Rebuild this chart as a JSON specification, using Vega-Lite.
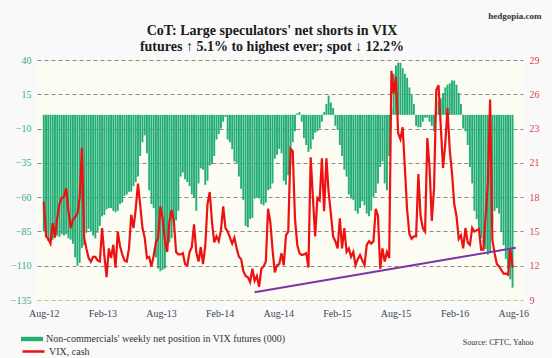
{
"$schema": "https://vega.github.io/schema/vega-lite/v6.json",
"width": 486, "height": 240,
"autosize": {"type": "none"},
"padding": {"left": 37, "top": 60, "right": 29, "bottom": 58},
"background": "#f8f9f8",
"title": {"text": ["CoT: Large speculators' net shorts in VIX", "futures ↑ 5.1% to highest ever; spot ↓ 12.2%"], "font": "Liberation Serif", "fontSize": 14, "fontWeight": "bold", "color": "#1a1a1a", "anchor": "middle", "frame": "group", "dx": -8, "offset": 0, "dy": 43, "lineHeight": 16},
"datasets": {
"main": [
{"date":"2012-08-31","net":-85,"vix":17.2},{"date":"2012-09-07","net":-86,"vix":14.3},{"date":"2012-09-14","net":-92,"vix":14.1},{"date":"2012-09-21","net":-93,"vix":13.7},{"date":"2012-09-28","net":-91,"vix":15.4},{"date":"2012-10-05","net":-89,"vix":14.2},{"date":"2012-10-12","net":-88,"vix":15.8},{"date":"2012-10-19","net":-89,"vix":17.0},{"date":"2012-10-26","net":-87,"vix":17.5},{"date":"2012-11-02","net":-88,"vix":17.6},{"date":"2012-11-09","net":-87,"vix":18.3},{"date":"2012-11-16","net":-90,"vix":16.4},{"date":"2012-11-23","net":-91,"vix":15.0},{"date":"2012-11-30","net":-94,"vix":15.7},{"date":"2012-12-07","net":-104,"vix":15.9},{"date":"2012-12-14","net":-110,"vix":16.2},{"date":"2012-12-21","net":-108,"vix":17.5},{"date":"2012-12-28","net":-97,"vix":21.7},
{"date":"2013-01-04","net":-95,"vix":14.2},{"date":"2013-01-11","net":-86,"vix":13.3},{"date":"2013-01-18","net":-83,"vix":12.5},{"date":"2013-01-25","net":-85,"vix":12.2},{"date":"2013-02-01","net":-88,"vix":12.6},{"date":"2013-02-08","net":-90,"vix":12.6},{"date":"2013-02-15","net":-86,"vix":12.3},{"date":"2013-02-22","net":-81,"vix":12.2},{"date":"2013-03-01","net":-74,"vix":15.0},{"date":"2013-03-08","net":-73,"vix":12.75},{"date":"2013-03-15","net":-69,"vix":10.9},{"date":"2013-03-22","net":-68,"vix":13.3},{"date":"2013-03-29","net":-68,"vix":12.5},{"date":"2013-04-05","net":-70,"vix":13.6},{"date":"2013-04-12","net":-71,"vix":11.7},{"date":"2013-04-19","net":-70,"vix":14.7},{"date":"2013-04-26","net":-65,"vix":13.5},{"date":"2013-05-03","net":-64,"vix":12.8},{"date":"2013-05-10","net":-59,"vix":12.3},{"date":"2013-05-17","net":-58,"vix":12.2},{"date":"2013-05-24","net":-56,"vix":13.3},{"date":"2013-05-31","net":-56,"vix":16.1},{"date":"2013-06-07","net":-52,"vix":15.0},{"date":"2013-06-14","net":-49,"vix":16.6},{"date":"2013-06-21","net":-45,"vix":18.7},{"date":"2013-06-28","net":-30,"vix":16.9},{"date":"2013-07-05","net":-20,"vix":15.0},{"date":"2013-07-12","net":-15,"vix":14.2},{"date":"2013-07-19","net":-28,"vix":12.5},{"date":"2013-07-26","net":-55,"vix":12.6},{"date":"2013-08-02","net":-65,"vix":11.8},{"date":"2013-08-09","net":-68,"vix":12.7},{"date":"2013-08-16","net":-104,"vix":13.8},{"date":"2013-08-23","net":-112,"vix":14.2},{"date":"2013-08-30","net":-114,"vix":16.8},{"date":"2013-09-06","net":-113,"vix":15.8},{"date":"2013-09-13","net":-112,"vix":14.0},{"date":"2013-09-20","net":-100,"vix":13.0},{"date":"2013-09-27","net":-93,"vix":15.5},{"date":"2013-10-04","net":-90,"vix":16.5},{"date":"2013-10-11","net":-80,"vix":15.6},{"date":"2013-10-18","net":-77,"vix":13.0},{"date":"2013-10-25","net":-70,"vix":12.8},{"date":"2013-11-01","net":-45,"vix":12.8},{"date":"2013-11-08","net":-42,"vix":12.9},{"date":"2013-11-15","net":-47,"vix":12.0},{"date":"2013-11-22","net":-49,"vix":11.9},{"date":"2013-11-29","net":-52,"vix":13.0},{"date":"2013-12-06","net":-58,"vix":13.4},{"date":"2013-12-13","net":-60,"vix":15.3},{"date":"2013-12-20","net":-70,"vix":13.0},{"date":"2013-12-27","net":-50,"vix":12.2},
{"date":"2014-01-03","net":-39,"vix":13.4},{"date":"2014-01-10","net":-40,"vix":12.0},{"date":"2014-01-17","net":-51,"vix":13.5},{"date":"2014-01-24","net":-48,"vix":17.0},{"date":"2014-01-31","net":-37,"vix":18.0},{"date":"2014-02-07","net":-36,"vix":15.5},{"date":"2014-02-14","net":-30,"vix":13.8},{"date":"2014-02-21","net":-18,"vix":14.3},{"date":"2014-02-28","net":-14,"vix":13.9},{"date":"2014-03-07","net":-10,"vix":14.8},{"date":"2014-03-14","net":-5,"vix":16.8},{"date":"2014-03-21","net":-1.5,"vix":15.0},{"date":"2014-03-28","net":-18,"vix":14.7},{"date":"2014-04-04","net":-20,"vix":14.2},{"date":"2014-04-11","net":-25,"vix":13.7},{"date":"2014-04-18","net":-34,"vix":14.2},{"date":"2014-04-25","net":-35,"vix":13.3},{"date":"2014-05-02","net":-45,"vix":12.6},{"date":"2014-05-09","net":-54,"vix":12.4},{"date":"2014-05-16","net":-62,"vix":11.4},{"date":"2014-05-23","net":-81,"vix":11.0},{"date":"2014-05-30","net":-82,"vix":10.9},{"date":"2014-06-06","net":-76,"vix":10.5},{"date":"2014-06-13","net":-75,"vix":11.6},{"date":"2014-06-20","net":-61,"vix":10.6},{"date":"2014-06-27","net":-60,"vix":11.0},{"date":"2014-07-04","net":-61,"vix":10.1},{"date":"2014-07-11","net":-65,"vix":11.6},{"date":"2014-07-18","net":-66,"vix":11.8},{"date":"2014-07-25","net":-64,"vix":12.2},{"date":"2014-08-01","net":-55,"vix":16.6},{"date":"2014-08-08","net":-54,"vix":15.5},{"date":"2014-08-15","net":-50,"vix":13.2},{"date":"2014-08-22","net":-32,"vix":11.3},{"date":"2014-08-29","net":-29,"vix":11.9},{"date":"2014-09-05","net":-25,"vix":12.0},{"date":"2014-09-12","net":-28,"vix":12.9},{"date":"2014-09-19","net":-48,"vix":11.9},{"date":"2014-09-26","net":-51,"vix":14.4},{"date":"2014-10-03","net":-44,"vix":14.7},{"date":"2014-10-10","net":-36,"vix":21.6},{"date":"2014-10-17","net":-20,"vix":21.4},{"date":"2014-10-24","net":-12,"vix":15.8},{"date":"2014-10-31","net":1,"vix":13.6},{"date":"2014-11-07","net":2,"vix":12.9},{"date":"2014-11-14","net":-5,"vix":12.75},{"date":"2014-11-21","net":-17,"vix":12.8},{"date":"2014-11-28","net":-22,"vix":12.9},{"date":"2014-12-05","net":-27,"vix":11.7},{"date":"2014-12-12","net":-25,"vix":20.9},{"date":"2014-12-19","net":-18,"vix":17.5},{"date":"2014-12-26","net":-13,"vix":14.3},
{"date":"2015-01-02","net":-12,"vix":17.5},{"date":"2015-01-09","net":-10,"vix":17.3},{"date":"2015-01-16","net":-5,"vix":20.8},{"date":"2015-01-23","net":2,"vix":16.4},{"date":"2015-01-30","net":8,"vix":20.8},{"date":"2015-02-06","net":14,"vix":18.0},{"date":"2015-02-13","net":9,"vix":16.2},{"date":"2015-02-20","net":5,"vix":14.3},{"date":"2015-02-27","net":-8,"vix":13.9},{"date":"2015-03-06","net":-11,"vix":13.3},{"date":"2015-03-13","net":-22,"vix":15.8},{"date":"2015-03-20","net":-30,"vix":13.3},{"date":"2015-03-27","net":-40,"vix":15.0},{"date":"2015-04-03","net":-45,"vix":13.0},{"date":"2015-04-10","net":-58,"vix":13.3},{"date":"2015-04-17","net":-61,"vix":12.6},{"date":"2015-04-24","net":-62,"vix":13.0},{"date":"2015-05-01","net":-70,"vix":11.9},{"date":"2015-05-08","net":-72,"vix":12.4},{"date":"2015-05-15","net":-68,"vix":12.75},{"date":"2015-05-22","net":-63,"vix":12.3},{"date":"2015-05-29","net":-66,"vix":11.9},{"date":"2015-06-05","net":-72,"vix":13.6},{"date":"2015-06-12","net":-74,"vix":13.9},{"date":"2015-06-19","net":-70,"vix":13.7},{"date":"2015-06-26","net":-60,"vix":13.9},{"date":"2015-07-03","net":-57,"vix":16.6},{"date":"2015-07-10","net":-50,"vix":16.0},{"date":"2015-07-17","net":-38,"vix":11.6},{"date":"2015-07-24","net":-34,"vix":13.3},{"date":"2015-07-31","net":-50,"vix":12.2},{"date":"2015-08-07","net":-55,"vix":13.0},{"date":"2015-08-14","net":-30,"vix":12.5},{"date":"2015-08-21","net":5,"vix":28.1},{"date":"2015-08-28","net":30,"vix":26.2},{"date":"2015-09-04","net":36,"vix":27.6},{"date":"2015-09-11","net":38,"vix":22.9},{"date":"2015-09-18","net":38,"vix":22.4},{"date":"2015-09-25","net":34,"vix":23.4},{"date":"2015-10-02","net":30,"vix":20.0},{"date":"2015-10-09","net":27,"vix":16.5},{"date":"2015-10-16","net":20,"vix":14.5},{"date":"2015-10-23","net":15,"vix":14.1},{"date":"2015-10-30","net":8,"vix":14.3},{"date":"2015-11-06","net":-8,"vix":14.3},{"date":"2015-11-13","net":-9,"vix":19.5},{"date":"2015-11-20","net":-9,"vix":16.0},{"date":"2015-11-27","net":-5,"vix":15.0},{"date":"2015-12-04","net":-2,"vix":14.7},{"date":"2015-12-11","net":-2,"vix":22.5},{"date":"2015-12-18","net":-5,"vix":20.0},{"date":"2015-12-25","net":-8,"vix":15.6},
{"date":"2016-01-01","net":-12,"vix":18.3},{"date":"2016-01-08","net":3,"vix":26.5},{"date":"2016-01-15","net":10,"vix":26.9},{"date":"2016-01-22","net":12,"vix":23.5},{"date":"2016-01-29","net":16,"vix":20.0},{"date":"2016-02-05","net":20,"vix":22.0},{"date":"2016-02-12","net":22,"vix":25.0},{"date":"2016-02-19","net":23,"vix":21.5},{"date":"2016-02-26","net":25,"vix":19.6},{"date":"2016-03-04","net":25,"vix":17.0},{"date":"2016-03-11","net":22,"vix":16.0},{"date":"2016-03-18","net":16,"vix":14.1},{"date":"2016-03-25","net":8,"vix":14.4},{"date":"2016-04-01","net":-10,"vix":13.3},{"date":"2016-04-08","net":-12,"vix":15.0},{"date":"2016-04-15","net":-22,"vix":13.8},{"date":"2016-04-22","net":-38,"vix":13.6},{"date":"2016-04-29","net":-50,"vix":15.0},{"date":"2016-05-06","net":-70,"vix":14.7},{"date":"2016-05-13","net":-76,"vix":14.8},{"date":"2016-05-20","net":-85,"vix":14.9},{"date":"2016-05-27","net":-90,"vix":13.2},{"date":"2016-06-03","net":-93,"vix":13.2},{"date":"2016-06-10","net":-98,"vix":16.0},{"date":"2016-06-17","net":-102,"vix":18.8},{"date":"2016-06-24","net":-100,"vix":25.7},{"date":"2016-07-01","net":-80,"vix":14.0},{"date":"2016-07-08","net":-70,"vix":12.9},{"date":"2016-07-15","net":-68,"vix":12.0},{"date":"2016-07-22","net":-72,"vix":11.8},{"date":"2016-07-29","net":-85,"vix":11.5},{"date":"2016-08-05","net":-95,"vix":11.2},{"date":"2016-08-12","net":-105,"vix":11.2},{"date":"2016-08-19","net":-112,"vix":11.1},{"date":"2016-08-26","net":-120,"vix":13.3},{"date":"2016-09-02","net":-126,"vix":11.7}
],
"trend": [{"date":"2014-06-20","vix":9.64},{"date":"2016-09-12","vix":13.36}]
},
"encoding": {
"x": {"field": "date", "type": "temporal",
 "scale": {"type": "utc", "domain": [{"year":2012,"month":8,"date":25,"hours":12,"utc":true},{"year":2016,"month":9,"date":19,"utc":true}]},
 "axis": {"values": [{"year":2012,"month":8,"date":31,"utc":true},{"year":2013,"month":3,"date":2,"utc":true},{"year":2013,"month":9,"date":1,"utc":true},{"year":2014,"month":3,"date":3,"utc":true},{"year":2014,"month":9,"date":2,"utc":true},{"year":2015,"month":3,"date":4,"utc":true},{"year":2015,"month":9,"date":3,"utc":true},{"year":2016,"month":3,"date":5,"utc":true},{"year":2016,"month":9,"date":4,"utc":true}],
  "labelExpr": "utcFormat(datum.value - 691200000, '%b-%y')",
  "grid": false, "domain": false, "ticks": false, "labelOverlap": false, "labelFlush": false,
  "labelFont": "Liberation Serif", "labelFontSize": 10, "labelColor": "#3a4656", "labelPadding": 8,
  "title": "Source: CFTC, Yahoo", "titleX": 496, "titleY": 44, "titleAlign": "right", "titleBaseline": "alphabetic",
  "titleFont": "Liberation Serif", "titleFontSize": 8, "titleFontWeight": "normal", "titleColor": "#333333"}}
},
"layer": [
{"data": {"name": "main"},
 "mark": {"type": "bar", "width": 1.9},
 "encoding": {
  "y": {"field": "net", "type": "quantitative", "scale": {"domain": [-135, 40], "nice": false, "zero": false},
   "axis": {"values": [-135,-110,-85,-60,-35,-10,15,40], "grid": true, "gridDash": [4,3],
    "gridColor": {"condition": {"test": "datum.value === -135", "value": "#c2c27e"}, "value": "#8a8a8a"},
    "domain": false, "ticks": false, "labelOverlap": false, "labelFont": "Liberation Serif", "labelFontSize": 10,
    "labelColor": "#3aae7e", "labelPadding": 6, "title": null}},
  "y2": {"datum": 0},
  "color": {"datum": "Non-commercials' weekly net position in VIX futures (000)", "type": "nominal",
   "scale": {"range": ["#22ad74"]},
   "legend": {"orient": "none", "legendX": -16, "legendY": 268, "title": null, "padding": 0, "labelLimit": 400,
    "symbolType": "M-1,-0.2H1V0.2H-1Z", "symbolSize": 484, "symbolStrokeWidth": 0,
    "labelFont": "Liberation Serif", "labelFontSize": 10, "labelColor": "#333333", "labelOffset": 3}}
 }},
{"data": {"name": "main"},
 "mark": {"type": "line", "strokeWidth": 2.2},
 "encoding": {
  "y": {"field": "vix", "type": "quantitative", "scale": {"domain": [9, 29], "nice": false, "zero": false},
   "axis": {"orient": "right", "values": [9, 11.857, 14.714, 17.571, 20.429, 23.286, 26.143, 29],
    "labelExpr": "['9','12','15','18','21','23','26','29'][round((datum.value-9)*7/20)]",
    "grid": false, "domain": false, "ticks": false, "labelOverlap": false,
    "labelFont": "Liberation Serif", "labelFontSize": 10, "labelColor": "#e04452", "labelPadding": 6,
    "title": "hedgopia.com", "titleAngle": 0, "titleX": 18, "titleY": -42, "titleAlign": "right", "titleBaseline": "alphabetic",
    "titleFont": "Liberation Serif", "titleFontSize": 9, "titleFontWeight": "bold", "titleColor": "#333333"}},
  "stroke": {"datum": "VIX, cash", "type": "nominal", "scale": {"range": ["#ee1111"]},
   "legend": {"orient": "none", "legendX": -16, "legendY": 279, "title": null, "padding": 0, "labelLimit": 400,
    "symbolType": "M-1,0H1", "symbolSize": 484, "symbolStrokeWidth": 2.5,
    "labelFont": "Liberation Serif", "labelFontSize": 10, "labelColor": "#333333", "labelOffset": 3}}
 }},
{"data": {"name": "trend"},
 "mark": {"type": "line", "color": "#7a35a8", "strokeWidth": 2},
 "encoding": {
  "y": {"field": "vix", "type": "quantitative", "scale": {"domain": [9, 29], "nice": false, "zero": false}, "axis": null}
 }}
],
"resolve": {"scale": {"y": "independent", "color": "independent", "stroke": "independent"}},
"config": {"view": {"stroke": null, "fill": "#fcfcf2"}}
}
